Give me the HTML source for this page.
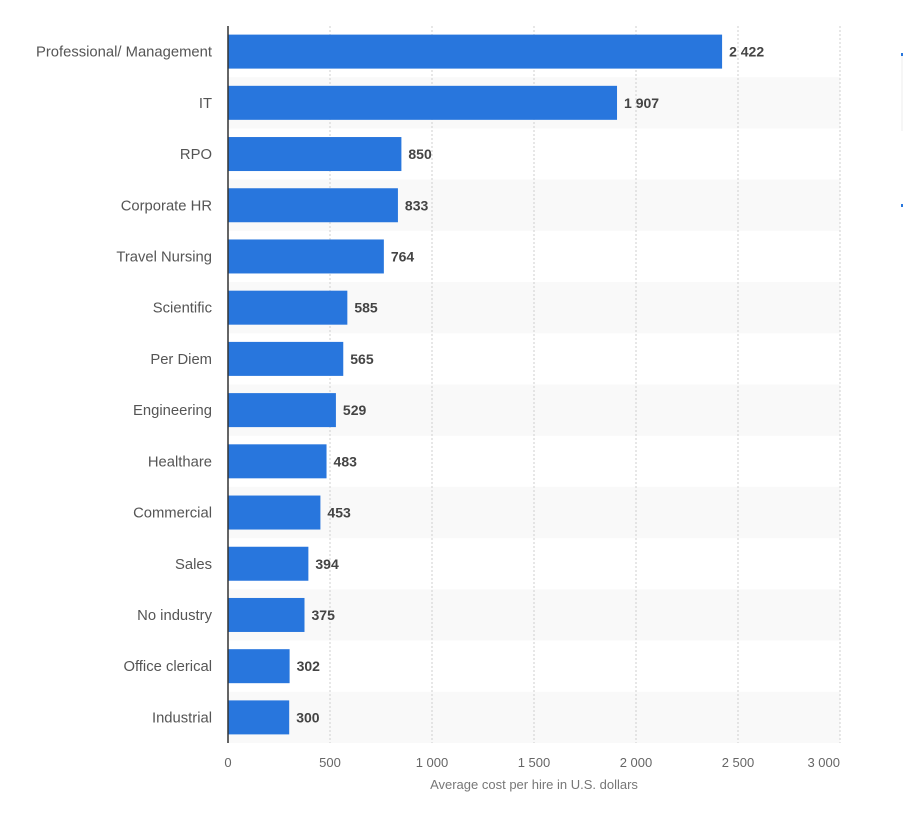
<!DOCTYPE html>
<html><head><meta charset="utf-8"><style>
body{margin:0;background:#fff;width:903px;height:811px;overflow:hidden;font-family:"Liberation Sans",sans-serif}
</style></head><body>
<svg id="chart" width="903" height="811" xmlns="http://www.w3.org/2000/svg"></svg>
<script>
const categories=["Professional/ Management","IT","RPO","Corporate HR","Travel Nursing","Scientific","Per Diem","Engineering","Healthare","Commercial","Sales","No industry","Office clerical","Industrial"];
const values=[2422,1907,850,833,764,585,565,529,483,453,394,375,302,300];
const valueLabels=["2 422","1 907","850","833","764","585","565","529","483","453","394","375","302","300"];
const ticks=[0,500,1000,1500,2000,2500,3000];
const tickLabels=["0","500","1 000","1 500","2 000","2 500","3 000"];
const svg=document.getElementById('chart');const NS='http://www.w3.org/2000/svg';
const x0=228,x1=840,yTop=26,yBot=743;
const band=(yBot-yTop)/categories.length;
const xs=v=>x0+(v/3000)*(x1-x0);
function el(t,a,txt){const e=document.createElementNS(NS,t);for(const k in a)e.setAttribute(k,a[k]);if(txt!=null)e.textContent=txt;svg.appendChild(e);return e;}
categories.forEach((c,i)=>{if(i%2==1){const r=el('rect',{x:x0,y:yTop+i*band,width:x1-x0,height:band,fill:'#f9f9f9'});

}});
ticks.forEach((t,i)=>{if(i>0){const l=el('line',{x1:xs(t),x2:xs(t),y1:yTop,y2:yBot,stroke:'#cfcfcf','stroke-dasharray':'2,2'});

}
const last=i==ticks.length-1;
const tx=el('text',{x:last?xs(t):xs(t),y:767,'text-anchor':last?'end':'middle','font-size':13,fill:'#666'},tickLabels[i]);

});
categories.forEach((c,i)=>{const cy=yTop+i*band+band/2;
const r=el('rect',{x:x0,y:cy-17,width:xs(values[i])-x0,height:34,fill:'#2876dd'});


const lb=el('text',{x:212,y:cy+5,'text-anchor':'end','font-size':14.8,fill:'#555'},c);


const v=el('text',{x:xs(values[i])+7,y:cy+5,'font-size':14,'font-weight':'bold',fill:'#444'},valueLabels[i]);

});
const ax=el('line',{x1:x0,x2:x0,y1:yTop,y2:yBot,stroke:'#333','stroke-width':1.5});


const tt=el('text',{x:534,y:789,'text-anchor':'middle','font-size':13,fill:'#777'},'Average cost per hire in U.S. dollars');


[53,204].forEach(y=>{const d=el('rect',{x:901,y:y,width:2,height:3,fill:'#2876dd'});

});
const sl=el('line',{x1:902,x2:902,y1:56,y2:131,stroke:'#eee'});


</script>
</body></html>
